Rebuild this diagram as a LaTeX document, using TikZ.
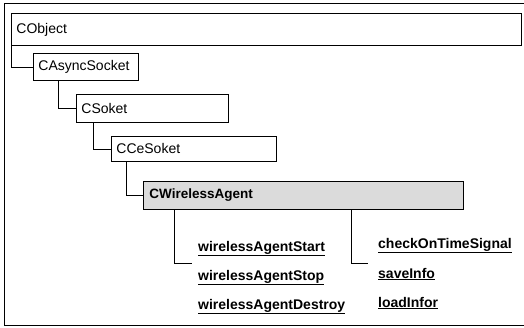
\documentclass[tikz,border=0pt]{standalone}
\usepackage{fontspec}
\setmainfont{Liberation Sans}
\begin{document}
\begin{tikzpicture}[x=1pt,y=-1pt,
  box/.style={draw=black,line width=0.8pt,anchor=north west,inner xsep=5pt,inner ysep=0pt,
    align=left,font=\fontsize{14}{16}\selectfont},
  link/.style={draw=black,line width=0.8pt},
  method/.style={anchor=base west,inner sep=0pt,font=\fontsize{14}{16}\selectfont\bfseries}]
\useasboundingbox (0,0) rectangle (524,327);
\draw[line width=0.8pt] (524,3) -- (4,3) -- (4,325) -- (524,325);
\node[box,minimum width=510pt,minimum height=32pt,text width=500pt] (cobj) at (11,13) {CObject};
\node[box,minimum width=105pt,minimum height=27pt,text width=95pt] (casync) at (33,53) {CAsyncSocket};
\node[box,minimum width=152pt,minimum height=28pt,text width=142pt] (csoket) at (76,94) {CSoket};
\node[box,minimum width=165pt,minimum height=25pt,text width=155pt] (ccesoket) at (111,136) {CCeSoket};
\node[box,fill=black!14,minimum width=320pt,minimum height=28pt,text width=308pt,inner xsep=6pt,
  font=\fontsize{13.5}{16}\selectfont\bfseries] (cwa) at (143,181) {CWirelessAgent};
\draw[link] (cobj.south west) |- (casync.west);
\draw[link] ([xshift=25pt]casync.south west) |- (csoket.west);
\draw[link] ([xshift=17pt]csoket.south west) |- (ccesoket.west);
\draw[link] ([xshift=15pt]ccesoket.south west) |- (cwa.west);
\coordinate (lend) at (192,263);
\coordinate (rend) at (368,263);
\draw[link] ([xshift=31pt]cwa.south west) |- (lend);
\draw[link] ([xshift=208pt]cwa.south west) |- (rend);
\node[method] (m1) at (198,251) {\underline{wirelessAgentStart}};
\node[method] (m2) at (198,280) {\underline{wirelessAgentStop}};
\node[method] (m3) at (198,309) {\underline{wirelessAgentDestroy}};
\node[method] (m4) at (378,248) {\underline{checkOnTimeSignal}};
\node[method] (m5) at (378,278) {\underline{saveInfo}};
\node[method] (m6) at (378,307) {\underline{loadInfor}};
\end{tikzpicture}
\end{document}
